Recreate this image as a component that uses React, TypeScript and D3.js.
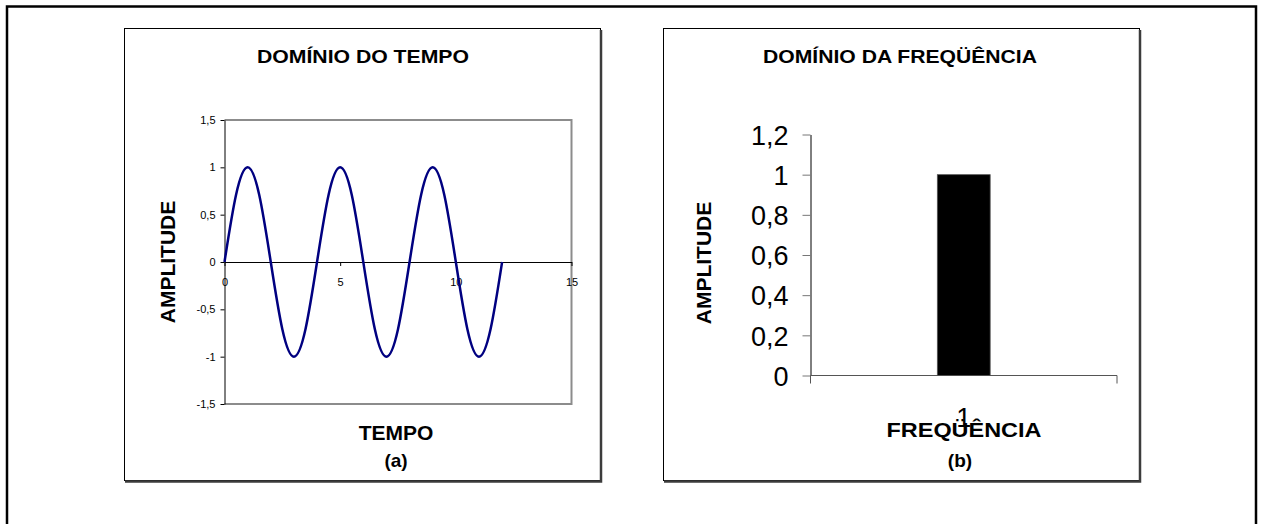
import React, { useEffect, useRef } from 'react';
import * as d3 from 'd3';

// time domain: sine (period 4, amplitude 1)
const tempo = [0, 0.5, 1, 1.5, 2, 2.5, 3, 3.5, 4, 4.5, 5, 5.5, 6, 6.5, 7, 7.5, 8, 8.5, 9, 9.5, 10, 10.5, 11, 11.5, 12];
const amplitude = [0, 0.71, 1, 0.71, 0, -0.71, -1, -0.71, 0, 0.71, 1, 0.71, 0, -0.71, -1, -0.71, 0, 0.71, 1, 0.71, 0, -0.71, -1, -0.71, 0];
const tempoTicks = [0, 5, 10, 15];
const ampTicks = [-1.5, -1, -0.5, 0, 0.5, 1, 1.5];

// frequency domain
const freqCategories = ['1'];
const freqValues = [1];
const freqTicks = [0, 0.2, 0.4, 0.6, 0.8, 1, 1.2];

const FONT = '"Liberation Sans", Arial, sans-serif';

const App = () => {
  const ref = useRef<SVGSVGElement>(null);

  useEffect(() => {
    const svg = d3.select(ref.current);
    svg.selectAll('*').remove();

    const locale = d3.formatLocale({ decimal: ',', thousands: '.', grouping: [3], currency: ['', ''], minus: '-' });
    const fmt = locale.format('~g');

    // outer frame
    svg.append('path')
      .attr('d', 'M7,540 V6.5 H1256 V540')
      .attr('fill', 'none')
      .attr('stroke', '#000')
      .attr('stroke-width', 2.5);

    // chart boxes with shadow on right/bottom
    const box = (x: number) => {
      svg.append('rect')
        .attr('x', x + 0.5).attr('y', 28.5)
        .attr('width', 476).attr('height', 452)
        .attr('fill', '#fff').attr('stroke', '#000').attr('stroke-width', 1);
      svg.append('path')
        .attr('d', `M${x + 477},30 V481.5 H${x + 1}`)
        .attr('fill', 'none').attr('stroke', '#3c3c3c').attr('stroke-width', 2.5);
    };
    box(124);
    box(663);

    const title = (t: string, x: number, y: number, size: number, len?: number) => {
      const el = svg.append('text')
        .attr('x', x).attr('y', y)
        .attr('text-anchor', 'middle')
        .attr('font-family', FONT)
        .attr('font-weight', 'bold')
        .attr('font-size', size)
        .attr('fill', '#000')
        .text(t);
      if (len) el.attr('textLength', len).attr('lengthAdjust', 'spacingAndGlyphs');
      return el;
    };

    // ---------- (a) time domain ----------
    const x = d3.scaleLinear().domain([0, 15]).range([224.5, 571.5]);
    const y = d3.scaleLinear().domain([-1.5, 1.5]).range([404, 120]);

    // plot area border
    svg.append('path')
      .attr('d', `M${x(0)},${y(1.5)} H${x(15)} V${y(-1.5)} H${x(0)}`)
      .attr('fill', 'none').attr('stroke', '#8c8c8c').attr('stroke-width', 2);

    const yAxis = svg.append('g')
      .attr('transform', `translate(${x(0)},0)`)
      .call(d3.axisLeft(y).tickValues(ampTicks).tickSize(4).tickSizeOuter(0).tickPadding(5).tickFormat(d => fmt(d as number)));
    yAxis.selectAll('text').attr('font-family', FONT).attr('font-size', 11).attr('fill', '#000');
    yAxis.selectAll('line,path').attr('stroke', '#000');

    const xAxis = svg.append('g')
      .attr('transform', `translate(0,${y(0)})`)
      .call(d3.axisBottom(x).tickValues(tempoTicks).tickSize(4).tickSizeOuter(0).tickPadding(12).tickFormat(d => fmt(d as number)));
    xAxis.selectAll('text').attr('font-family', FONT).attr('font-size', 11).attr('fill', '#000');
    xAxis.selectAll('line,path').attr('stroke', '#000');

    const line = d3.line<number>()
      .x((_, i) => x(tempo[i]))
      .y(d => y(d))
      .curve(d3.curveNatural);
    svg.append('path')
      .datum(amplitude)
      .attr('fill', 'none')
      .attr('stroke', '#000080')
      .attr('stroke-width', 2.5)
      .attr('d', line);

    title('DOMÍNIO DO TEMPO', 363, 63, 19, 212);
    title('TEMPO', 396, 440, 21);
    title('(a)', 396, 467, 19);
    title('AMPLITUDE', 0, 0, 21).attr('transform', 'translate(175,262) rotate(-90)');

    // ---------- (b) frequency domain ----------
    const xb = d3.scaleBand<string>().domain(freqCategories).range([810.5, 1117]).paddingInner(0).paddingOuter(2.4);
    const yb = d3.scaleLinear().domain([0, 1.2]).range([375.5, 134.5]);
    const [bx0, bx1] = xb.range();

    const ybAxis = svg.append('g')
      .attr('transform', `translate(${bx0},0)`)
      .call(d3.axisLeft(yb).tickValues(freqTicks).tickSize(8).tickSizeOuter(0).tickPadding(14).tickFormat(d => fmt(d as number)));
    ybAxis.selectAll('text').attr('font-family', FONT).attr('font-size', 27).attr('fill', '#000').attr('dy', '0.36em');
    ybAxis.selectAll('line').attr('stroke', '#777');
    ybAxis.select('path').attr('stroke', '#000');

    // category axis: ticks at boundaries
    svg.append('path')
      .attr('d', `M${bx0},${yb(0)} H${bx1} V${yb(0) + 8} M${bx0},${yb(0)} V${yb(0) + 8}`)
      .attr('fill', 'none').attr('stroke', '#555').attr('stroke-width', 1);

    svg.selectAll('rect.bar')
      .data(freqValues)
      .join('rect')
      .attr('class', 'bar')
      .attr('x', (_, i) => xb(freqCategories[i])!)
      .attr('y', d => yb(d))
      .attr('width', xb.bandwidth())
      .attr('height', d => yb(0) - yb(d))
      .attr('fill', '#000')
      .attr('stroke', '#555')
      .attr('stroke-width', 0.8);

    svg.selectAll('text.cat')
      .data(freqCategories)
      .join('text')
      .attr('class', 'cat')
      .attr('x', d => xb(d)! + xb.bandwidth() / 2)
      .attr('y', 427)
      .attr('text-anchor', 'middle')
      .attr('font-family', FONT)
      .attr('font-size', 27)
      .attr('fill', '#000')
      .text(d => d);

    title('DOMÍNIO DA FREQÜÊNCIA', 900, 63, 19, 274);
    title('FREQÜÊNCIA', 964, 437, 21, 155);
    title('(b)', 960, 467, 19);
    title('AMPLITUDE', 0, 0, 21).attr('transform', 'translate(711,263) rotate(-90)');
  }, []);

  return (
    <svg
      ref={ref}
      width={1263}
      height={524}
      style={{ position: 'absolute', left: 0, top: 0, background: '#fff' }}
    />
  );
};

export default App;
